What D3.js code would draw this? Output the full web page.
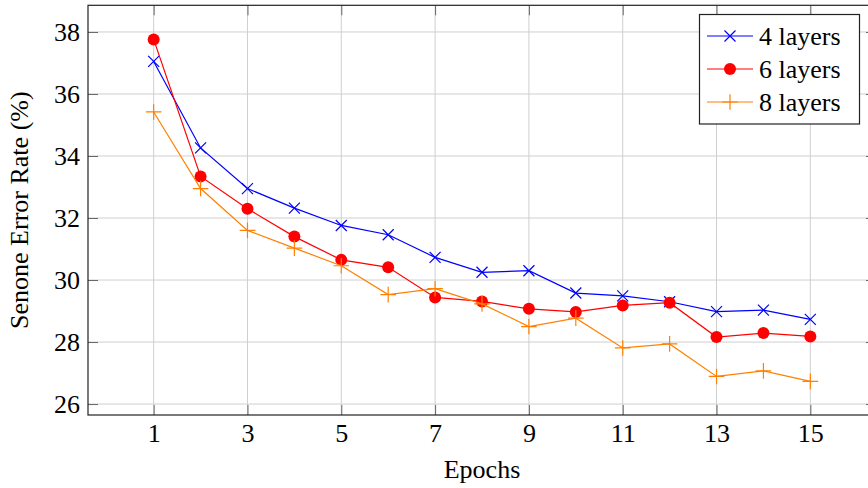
<!DOCTYPE html>
<html>
<head>
<meta charset="utf-8">
<script src="https://cdn.jsdelivr.net/npm/d3@7"></script>
<style>
  body { margin: 0; background: #fff; }
  text { font-family: "Liberation Serif", "DejaVu Serif", serif; fill: #000; }
</style>
</head>
<body>
<script>
'use strict';

var width = 868,
    height = 488;

// data
var epochs = [1, 2, 3, 4, 5, 6, 7, 8, 9, 10, 11, 12, 13, 14, 15];
var layers4 = [37.05, 34.26, 32.95, 32.32, 31.76, 31.46, 30.73, 30.25, 30.30, 29.58, 29.49, 29.30, 28.98, 29.03, 28.73];
var layers6 = [37.76, 33.34, 32.30, 31.40, 30.65, 30.41, 29.44, 29.31, 29.07, 28.97, 29.18, 29.27, 28.16, 28.29, 28.18];
var layers8 = [35.42, 32.95, 31.60, 31.03, 30.46, 29.53, 29.72, 29.23, 28.50, 28.77, 27.81, 27.94, 26.89, 27.07, 26.73];
var xTicks = [1, 3, 5, 7, 9, 11, 13, 15];
var yTicks = [26, 28, 30, 32, 34, 36, 38];
var seriesNames = ['4 layers', '6 layers', '8 layers'];

var series = [
  { name: seriesNames[0], values: layers4, color: '#0000ff', mark: 'x' },
  { name: seriesNames[1], values: layers6, color: '#ff0000', mark: 'o' },
  { name: seriesNames[2], values: layers8, color: '#ff8000', mark: '+' }
];

var plotLeft = 88, plotRight = 876, plotTop = 5.3, plotBottom = 415;
var fontSize = '26px';

var x = d3.scaleLinear().domain([-0.4, 16.4]).range([plotLeft, plotRight]);
var y = d3.scaleLinear().domain([25.647, 38.86]).range([plotBottom, plotTop]);

var svg = d3.select('body').append('svg')
    .attr('width', width)
    .attr('height', height);

// grid
svg.append('g').selectAll('line')
    .data(xTicks).enter().append('line')
    .attr('x1', function(d) { return x(d); })
    .attr('x2', function(d) { return x(d); })
    .attr('y1', plotTop).attr('y2', plotBottom)
    .attr('stroke', '#cfcfcf').attr('stroke-width', 1);

svg.append('g').selectAll('line')
    .data(yTicks).enter().append('line')
    .attr('y1', function(d) { return y(d); })
    .attr('y2', function(d) { return y(d); })
    .attr('x1', plotLeft).attr('x2', plotRight)
    .attr('stroke', '#cfcfcf').attr('stroke-width', 1);

// axes (ticks pointing inward, on all four sides)
var tickLen = 10;
svg.append('g')
    .attr('transform', 'translate(0,' + plotBottom + ')')
    .call(d3.axisBottom(x).tickValues(xTicks).tickSize(-tickLen).tickPadding(8.5));
svg.append('g')
    .attr('transform', 'translate(0,' + plotTop + ')')
    .call(d3.axisTop(x).tickValues(xTicks).tickSize(-tickLen).tickFormat(''));
svg.append('g')
    .attr('transform', 'translate(' + plotLeft + ',0)')
    .call(d3.axisLeft(y).tickValues(yTicks).tickSize(-tickLen).tickPadding(8));
svg.append('g')
    .attr('transform', 'translate(' + plotRight + ',0)')
    .call(d3.axisRight(y).tickValues(yTicks).tickSize(-tickLen).tickFormat(''));

svg.selectAll('.domain').remove();
svg.selectAll('.tick line').attr('stroke', '#666').attr('stroke-width', 1);
svg.selectAll('.tick text')
    .style('font-family', '"Liberation Serif", serif')
    .style('font-size', fontSize)
    .attr('fill', '#000');

// frame
svg.append('rect')
    .attr('x', plotLeft).attr('y', plotTop)
    .attr('width', plotRight - plotLeft).attr('height', plotBottom - plotTop)
    .attr('fill', 'none').attr('stroke', '#222').attr('stroke-width', 1.2);

// lines
var line = d3.line()
    .x(function(d, i) { return x(epochs[i]); })
    .y(function(d) { return y(d); });

function drawMark(g, mark, color) {
  if (mark === 'o') {
    g.append('circle').attr('r', 6).attr('fill', color);
  } else if (mark === 'x') {
    var s = 5.5;
    g.append('path').attr('d', 'M' + -s + ',' + -s + 'L' + s + ',' + s + 'M' + -s + ',' + s + 'L' + s + ',' + -s)
      .attr('stroke', color).attr('stroke-width', 1.2);
  } else {
    var p = 7.8;
    g.append('path').attr('d', 'M' + -p + ',0L' + p + ',0M0,' + -p + 'L0,' + p)
      .attr('stroke', color).attr('stroke-width', 1.2);
  }
}

series.forEach(function(s) {
  var g = svg.append('g');
  g.append('path')
    .attr('d', line(s.values))
    .attr('fill', 'none')
    .attr('stroke', s.color)
    .attr('stroke-width', 1.2);
  g.selectAll('g').data(s.values).enter().append('g')
    .attr('transform', function(d, i) { return 'translate(' + x(epochs[i]) + ',' + y(d) + ')'; })
    .each(function() { drawMark(d3.select(this), s.mark, s.color); });
});

// legend
var legend = svg.append('g');
legend.append('rect')
    .attr('x', 699.5).attr('y', 14.5)
    .attr('width', 160).attr('height', 109.5)
    .attr('fill', '#fff').attr('stroke', '#222').attr('stroke-width', 1.2);

series.forEach(function(s, i) {
  var cy = 36 + i * 33;
  var row = legend.append('g');
  row.append('line')
    .attr('x1', 707).attr('x2', 753)
    .attr('y1', cy).attr('y2', cy)
    .attr('stroke', s.color).attr('stroke-width', 1.2);
  drawMark(row.append('g').attr('transform', 'translate(730,' + cy + ')'), s.mark, s.color);
  row.append('text')
    .attr('x', 759).attr('y', cy)
    .attr('dy', '0.33em')
    .style('font-size', fontSize)
    .text(s.name);
});

// axis titles
svg.append('text')
    .attr('x', (plotLeft + plotRight) / 2).attr('y', 478)
    .attr('text-anchor', 'middle')
    .style('font-size', fontSize)
    .text('Epochs');

svg.append('text')
    .attr('transform', 'translate(28,' + ((plotTop + plotBottom) / 2) + ') rotate(-90)')
    .attr('text-anchor', 'middle')
    .style('font-size', fontSize)
    .text('Senone Error Rate (%)');
</script>
</body>
</html>
